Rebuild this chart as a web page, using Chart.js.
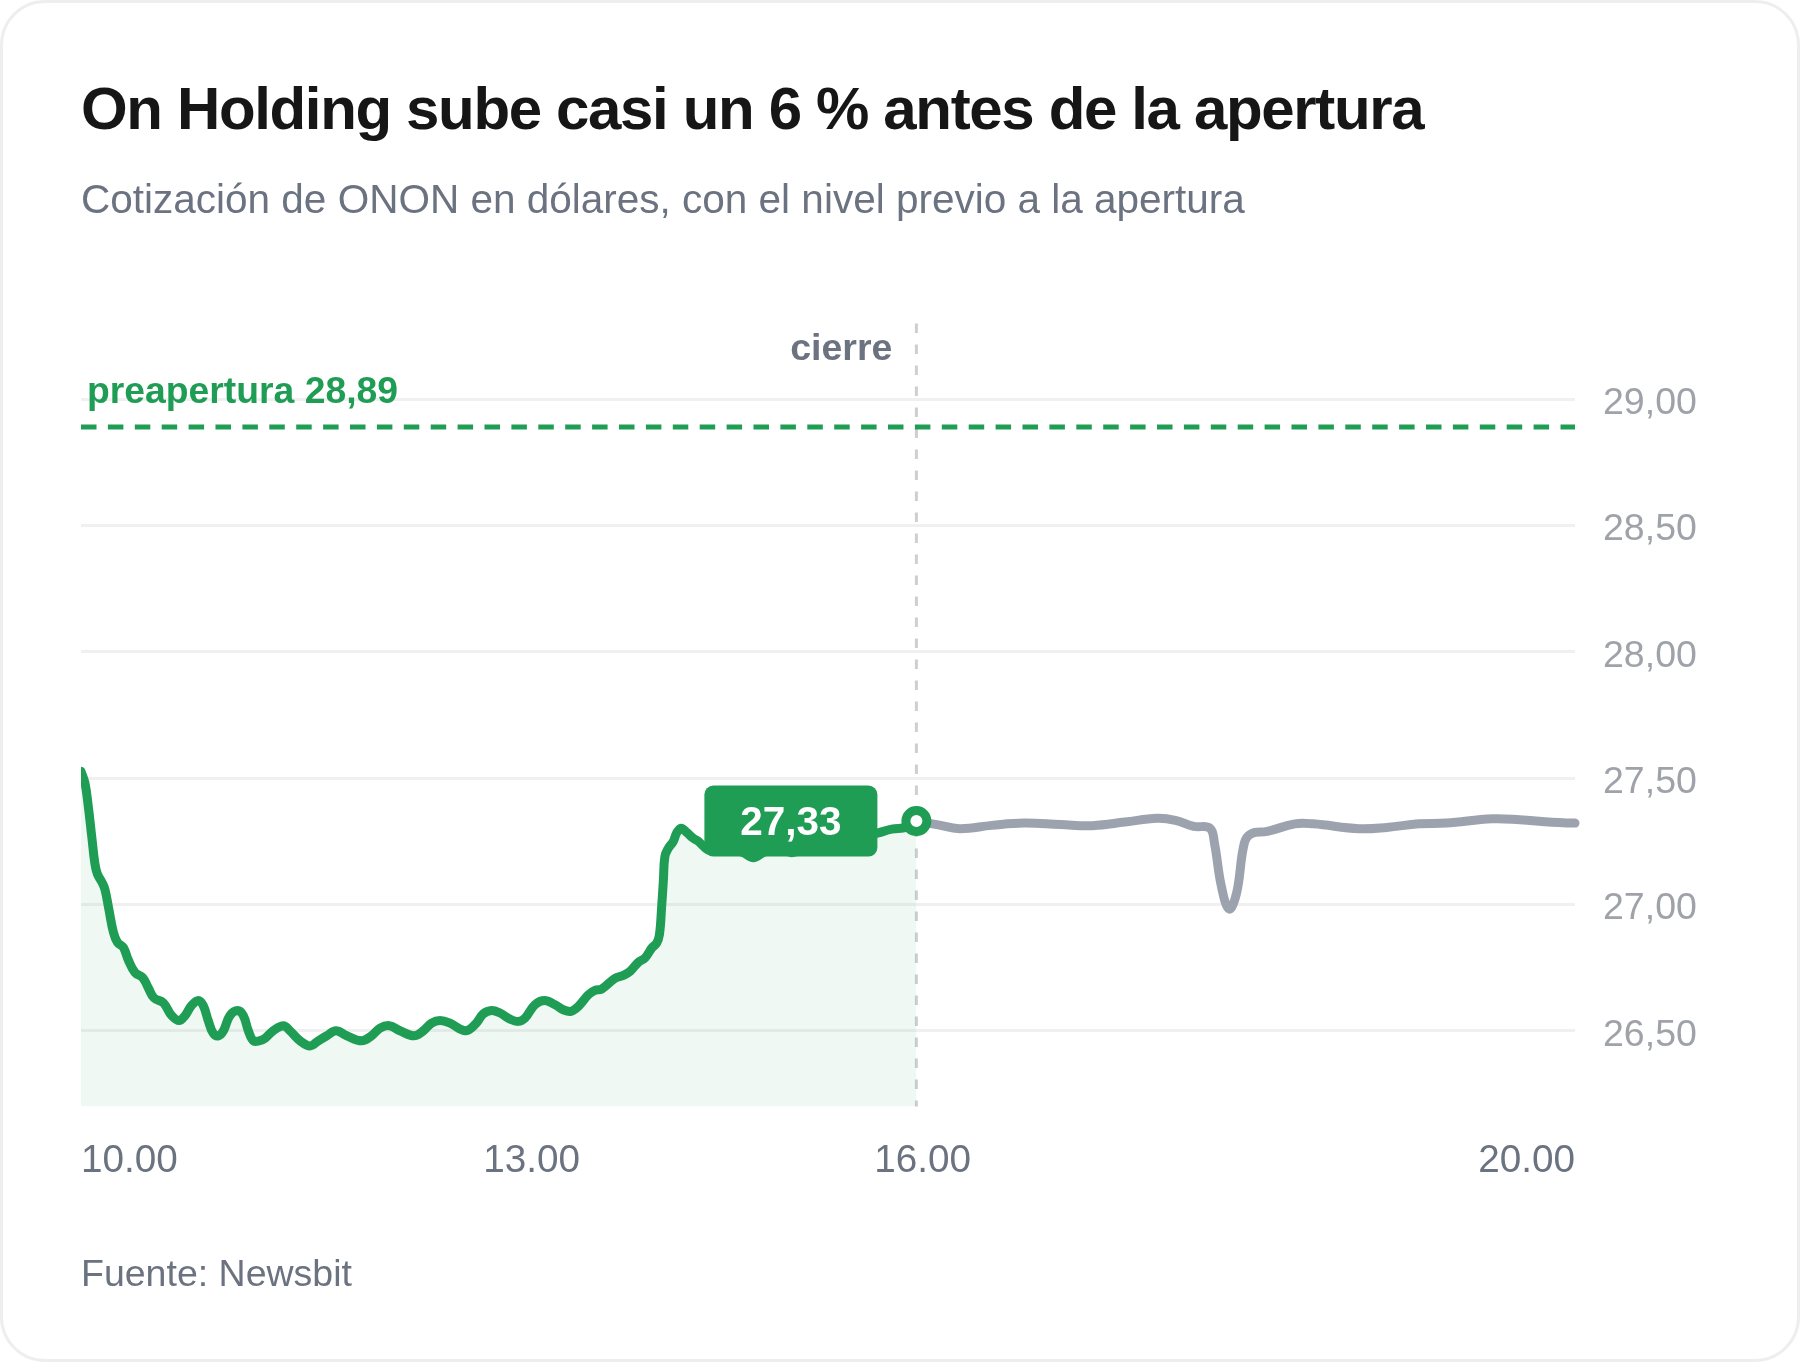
<!DOCTYPE html>
<html lang="es">
<head>
<meta charset="utf-8">
<title>On Holding</title>
<script src="https://cdn.jsdelivr.net/npm/chart.js@4"></script>
<style>
  html, body { margin: 0; background: #fff; }
  body { width: 1800px; height: 1362px; position: relative; overflow: hidden; font-family: "Liberation Sans", Arial, sans-serif; }
  #card { position: absolute; inset: 0; box-sizing: border-box; border: 3px solid #eeeeee; border-radius: 45px; }
  #plotChart { position: absolute; left: 0; top: 0; }
  h1, p { position: absolute; margin: 0; white-space: nowrap; }
  h1 { left: 81px; top: 75.5px; font-size: 60px; line-height: 66px; font-weight: 700; letter-spacing: -1.35px; color: #161616; }
  #sub { left: 81px; top: 176px; font-size: 40.5px; line-height: 46px; color: #6b7280; }
  #source { left: 81px; top: 1251px; font-size: 37.5px; line-height: 44px; color: #6b7280; }
</style>
</head>
<body>
<div id="card"></div>
<canvas id="plotChart" width="1800" height="1362"></canvas>
<h1>On Holding sube casi un 6 % antes de la apertura</h1>
<p id="sub">Cotización de ONON en dólares, con el nivel previo a la apertura</p>
<p id="source">Fuente: Newsbit</p>
<script>
// Minutes are counted along the axis from the 10.00 label
const sessionMinutes = [0, 1.6, 2.9, 4.3, 5.6, 6.6, 8.3, 9.6, 11.2, 13, 14.6, 17, 19, 21.7, 24.8, 27, 29.3, 33.1, 36.4, 39.4,
  41.8, 44.4, 47.1, 49.1, 51.1, 53.1, 55.2, 57.2, 59.8, 62.9, 65.2, 67.2, 69.2, 71.5, 73.9, 77.2, 81.3, 83.9, 88, 92,
  95.3, 98.7, 102.4, 106.7, 112.7, 116.7, 120.1, 123.8, 128.1, 133.7, 137.5, 140.8, 144.2, 148.2, 154.2, 158.2, 161.6, 164.9, 168.3, 172.3,
  175.6, 178.3, 182.3, 186.1, 190.4, 193.7, 196.8, 199.7, 203.8, 206.4, 209.1, 214.5, 217.8, 220.5, 223.8, 226.5, 229.2, 231.2, 232.3, 233.2,
  233.9, 234.5, 235.9, 237.9, 239.2, 241, 243.3, 245.9, 247.9, 251.9, 254.6, 257.9, 261.9, 266, 270, 274, 279.3, 285.4, 290, 299.5,
  310.2, 320.2, 325.6, 331.6, 335.5];
const sessionPrice = [27.527, 27.48, 27.39, 27.27, 27.16, 27.12, 27.09, 27.06, 26.98, 26.89, 26.85, 26.83, 26.78, 26.73, 26.71, 26.67, 26.63, 26.61, 26.56, 26.54,
  26.56, 26.6, 26.62, 26.6, 26.54, 26.49, 26.48, 26.5, 26.56, 26.58, 26.56, 26.5, 26.46, 26.46, 26.47, 26.5, 26.52, 26.5, 26.46, 26.44,
  26.46, 26.48, 26.5, 26.48, 26.46, 26.48, 26.51, 26.52, 26.5, 26.48, 26.5, 26.53, 26.54, 26.53, 26.5, 26.524, 26.567, 26.58, 26.57, 26.546,
  26.537, 26.55, 26.603, 26.62, 26.603, 26.583, 26.577, 26.596, 26.643, 26.66, 26.665, 26.708, 26.719, 26.735, 26.771, 26.788, 26.827, 26.847, 26.88, 26.992,
  27.098, 27.19, 27.223, 27.25, 27.283, 27.302, 27.285, 27.262, 27.25, 27.215, 27.215, 27.22, 27.22, 27.205, 27.185, 27.205, 27.225, 27.205, 27.22, 27.235,
  27.256, 27.283, 27.298, 27.306, 27.33];
const afterMinutes = [335.5, 343.7, 352.9, 365.8, 378.7, 393.4, 406.3, 419.3, 432.2, 439.5, 446.9, 453.4, 455.2, 458, 461.1, 464.1, 467.2, 470, 476.4, 487.5,
  494.9, 513.3, 524.4, 537.3, 548.3, 566.8, 577.8, 590.8, 600];
const afterPrice = [27.33, 27.316, 27.3, 27.313, 27.322, 27.316, 27.312, 27.326, 27.341, 27.333, 27.309, 27.302, 27.243, 27.071, 26.982, 27.045, 27.243, 27.28, 27.289, 27.319,
  27.319, 27.3, 27.305, 27.319, 27.322, 27.339, 27.335, 27.325, 27.322];
const preMinutes = [0, 600];
const prePrice = [28.89, 28.89];
const xTickValues = [0, 181, 338, 600];
const xTickLabels = ["10.00", "13.00", "16.00", "20.00"];
const yTickValues = [26.5, 27, 27.5, 28, 28.5, 29];
const closeMinute = 335.5;
const closePrice = 27.33;

const GREEN = "#1f9d55";
const FONT = '"Liberation Sans", Arial, sans-serif';
const decimal = (v) => v.toFixed(2).replace(".", ",");
const toPoints = (xs, ys) => xs.map((x, i) => ({ x: x, y: ys[i] }));

// Close line, labels and value badge: positions come from the chart scales
const notes = {
  id: "notes",
  beforeDatasetsDraw(chart) {
    const { ctx, chartArea, scales } = chart;
    const x = scales.x.getPixelForValue(closeMinute);
    ctx.save();
    ctx.strokeStyle = "#cfcfcf";
    ctx.lineWidth = 3;
    ctx.setLineDash([9.5, 11.5]);
    ctx.beginPath();
    ctx.moveTo(x, chartArea.top);
    ctx.lineTo(x, chartArea.bottom);
    ctx.stroke();
    ctx.restore();
  },
  afterDatasetsDraw(chart) {
    const { ctx, chartArea, scales } = chart;
    const x = scales.x.getPixelForValue(closeMinute);
    const y = scales.y.getPixelForValue(closePrice);
    ctx.save();
    ctx.fillStyle = GREEN;
    ctx.beginPath();
    ctx.roundRect(x - 212, y - 35.5, 173, 71, 9);
    ctx.fill();
    ctx.fillStyle = "#fff";
    ctx.font = "bold 40.5px " + FONT;
    ctx.textAlign = "center";
    ctx.textBaseline = "middle";
    ctx.fillText(decimal(closePrice), x - 125.5, y + 3);

    ctx.fillStyle = GREEN;
    ctx.font = "bold 37.3px " + FONT;
    ctx.textAlign = "left";
    ctx.textBaseline = "alphabetic";
    ctx.fillText("preapertura " + decimal(prePrice[0]), chartArea.left + 6, scales.y.getPixelForValue(prePrice[0]) - 24);

    ctx.fillStyle = "#6b7280";
    ctx.font = "bold 37.5px " + FONT;
    ctx.textAlign = "right";
    ctx.fillText("cierre", x - 24, chartArea.top + 36);
    ctx.restore();
  },
};

new Chart(document.getElementById("plotChart").getContext("2d"), {
  type: "line",
  data: {
    datasets: [
      {
        data: toPoints(sessionMinutes, sessionPrice),
        borderColor: GREEN,
        borderWidth: 9,
        backgroundColor: "rgba(31, 157, 85, 0.07)",
        fill: "start",
        clip: { left: 0, top: false, right: false, bottom: false },
        tension: 0.4,
        borderCapStyle: "round",
        borderJoinStyle: "round",
        pointRadius: (c) => (c.dataIndex === sessionMinutes.length - 1 ? 10.5 : 0),
        pointBorderWidth: 9,
        pointBorderColor: GREEN,
        pointBackgroundColor: "#fff",
        order: 1,
      },
      {
        data: toPoints(afterMinutes, afterPrice),
        borderColor: "#9ca3af",
        borderWidth: 9,
        clip: false,
        tension: 0.4,
        borderCapStyle: "round",
        borderJoinStyle: "round",
        pointRadius: 0,
        order: 2,
      },
      {
        data: toPoints(preMinutes, prePrice),
        borderColor: GREEN,
        borderWidth: 5,
        borderDash: [15.5, 11.4],
        pointRadius: 0,
        order: 3,
      },
    ],
  },
  options: {
    responsive: false,
    animation: false,
    devicePixelRatio: 1,
    layout: { padding: { left: 81, top: 323.5, right: 0, bottom: 0 } },
    plugins: { legend: { display: false }, tooltip: { enabled: false } },
    scales: {
      x: {
        type: "linear",
        min: 0,
        max: 600,
        grid: { display: false },
        border: { display: false },
        afterBuildTicks: (axis) => { axis.ticks = xTickValues.map((v) => ({ value: v })); },
        afterFit: (axis) => { axis.height = 255.5; },
        ticks: {
          autoSkip: false,
          maxRotation: 0,
          align: "inner",
          padding: 24,
          color: "#6b7280",
          font: { size: 38.7, family: FONT },
          callback: (v) => xTickLabels[xTickValues.indexOf(v)],
        },
      },
      y: {
        type: "linear",
        position: "right",
        min: 26.2,
        max: 29.3,
        bounds: "data",
        grid: { color: "#f0f0f0", lineWidth: 3, drawTicks: false },
        border: { display: false },
        afterBuildTicks: (axis) => { axis.ticks = yTickValues.map((v) => ({ value: v })); },
        afterFit: (axis) => { axis.width = 225; },
        ticks: {
          padding: 28,
          labelOffset: 4.5,
          color: "#9fa3a9",
          font: { size: 37.5, family: FONT },
          callback: (v) => decimal(v),
        },
      },
    },
  },
  plugins: [notes],
});
</script>
</body>
</html>
